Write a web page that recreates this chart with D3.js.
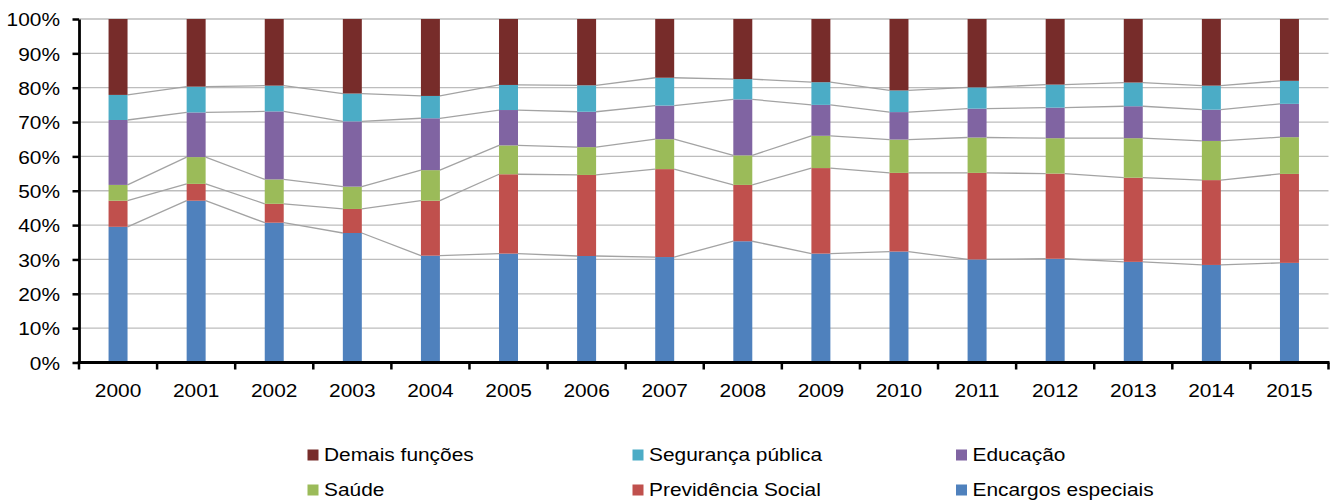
<!DOCTYPE html>
<html>
<head>
<meta charset="utf-8">
<script src="https://cdn.jsdelivr.net/npm/d3@7"></script>
<style>
  html, body { margin: 0; padding: 0; background: #fff; }
  svg { display: block; }
  text { font-family: "Liberation Sans", Arial, sans-serif; fill: #000; }
</style>
</head>
<body>
<svg id="chart" width="1333" height="501"></svg>
<script>
// Years on the category axis
const years = ["2000","2001","2002","2003","2004","2005","2006","2007",
               "2008","2009","2010","2011","2012","2013","2014","2015"];

// Share of each function in total spending (%), stacked bottom to top
const encargosEspeciais = [39.5, 47.1, 40.7, 37.7, 31.1, 31.7, 31.0, 30.7, 35.3, 31.7, 32.3, 30.0, 30.2, 29.3, 28.4, 29.0];
const previdenciaSocial = [ 7.6,  4.9,  5.5,  7.0, 16.0, 23.1, 23.6, 25.6, 16.4, 24.9, 22.9, 25.2, 24.8, 24.5, 24.7, 25.9];
const saude             = [ 4.6,  7.8,  7.1,  6.5,  8.9,  8.4,  8.1,  8.7,  8.6,  9.4,  9.7, 10.3, 10.3, 11.5, 11.4, 10.7];
const educacao          = [18.9, 13.0, 19.8, 19.0, 15.1, 10.3, 10.3,  9.8, 16.3,  9.0,  8.0,  8.4,  8.9,  9.3,  9.1,  9.7];
const segurancaPublica  = [ 7.3,  7.5,  7.5,  8.1,  6.5,  7.3,  7.7,  8.1,  5.9,  6.6,  6.3,  6.2,  6.7,  6.9,  7.0,  6.7];
const demaisFuncoes     = [22.1, 19.7, 19.4, 21.7, 22.4, 19.2, 19.3, 17.1, 17.5, 18.4, 20.8, 19.9, 19.1, 18.5, 19.4, 18.0];

// Series names, bottom to top
const seriesNames = ["Encargos especiais", "Previdência Social", "Saúde",
                     "Educação", "Segurança pública", "Demais funções"];
const seriesValues = [encargosEspeciais, previdenciaSocial, saude,
                      educacao, segurancaPublica, demaisFuncoes];
const seriesColors = ["#4f81bd", "#c0504d", "#9bbb59", "#8064a2", "#4bacc6", "#772c2a"];

// Legend layout order (row by row)
const legendOrder = ["Demais funções", "Segurança pública", "Educação",
                     "Saúde", "Previdência Social", "Encargos especiais"];

// y-axis tick values
const yTicks = [0, 0.1, 0.2, 0.3, 0.4, 0.5, 0.6, 0.7, 0.8, 0.9, 1.0];

const FONT = 18.5, SX = 1.13;

const svg = d3.select("#chart");
const plot = { left: 79, right: 1328.5, top: 19, bottom: 362.5 };

const rows = years.map((y, i) => {
  const r = { year: y };
  seriesNames.forEach((n, k) => r[n] = seriesValues[k][i] / 100);
  return r;
});
const stacked = d3.stack().keys(seriesNames)(rows);

const x = d3.scaleBand().domain(years).range([plot.left, plot.right]).paddingInner(0).paddingOuter(0);
const barW = x.bandwidth() * 0.243;
const barX = d => x(d) + (x.bandwidth() - barW) / 2;

const y = d3.scaleLinear().domain([0, 1]).range([plot.bottom, plot.top]);
const color = d3.scaleOrdinal().domain(seriesNames).range(seriesColors);

// horizontal gridlines
svg.append("g").selectAll("line").data(yTicks.filter(t => t > 0)).join("line")
  .attr("x1", plot.left).attr("x2", plot.right)
  .attr("y1", d => y(d)).attr("y2", d => y(d))
  .attr("stroke", "#bdbdbd").attr("stroke-width", 1.3);

// connector lines between bars for each cumulative boundary
const connect = svg.append("g").attr("fill", "none").attr("stroke", "#a3a3a3").attr("stroke-width", 1.3);
stacked.slice(0, 5).forEach(layer => {
  for (let i = 0; i < years.length - 1; i++) {
    connect.append("line")
      .attr("x1", barX(years[i]) + barW).attr("y1", y(layer[i][1]))
      .attr("x2", barX(years[i + 1])).attr("y2", y(layer[i + 1][1]));
  }
});

// stacked bars
svg.append("g").selectAll("g").data(stacked).join("g")
  .attr("fill", d => color(d.key))
  .selectAll("rect").data(d => d).join("rect")
  .attr("x", d => barX(d.data.year))
  .attr("width", barW)
  .attr("y", d => y(d[1]))
  .attr("height", d => y(d[0]) - y(d[1]));

// stretch text horizontally about its anchor point
function stretchX(sel) {
  sel.each(function () {
    const t = d3.select(this);
    const tx = +t.attr("x") || 0, ty = +t.attr("y") || 0;
    t.attr("x", 0).attr("y", 0).attr("transform", `translate(${tx},${ty}) scale(${SX},1)`);
  });
}

// y axis
const yAxis = svg.append("g").attr("transform", `translate(${plot.left},0)`)
  .call(d3.axisLeft(y).tickValues(yTicks).tickFormat(d3.format(".0%"))
        .tickSize(6.5).tickPadding(12.5).tickSizeOuter(0));
yAxis.select(".domain").attr("stroke", "#000").attr("stroke-width", 2.8);
yAxis.selectAll(".tick line").attr("stroke", "#000").attr("stroke-width", 2.5);
yAxis.selectAll("text").attr("font-size", FONT).attr("font-family", "Liberation Sans, Arial, sans-serif")
  .attr("fill", "#000").attr("dy", "0.36em");
stretchX(yAxis.selectAll("text"));

// x axis: labels at band centres, ticks at band edges
const xAxis = svg.append("g").attr("transform", `translate(0,${plot.bottom})`)
  .call(d3.axisBottom(x).tickSize(0).tickPadding(21).tickSizeOuter(0));
xAxis.select(".domain").remove();
xAxis.selectAll("text").attr("font-size", FONT).attr("font-family", "Liberation Sans, Arial, sans-serif")
  .attr("fill", "#000");
stretchX(xAxis.selectAll("text"));
xAxis.append("line").attr("x1", plot.left - 1.4).attr("x2", plot.right + 1)
  .attr("stroke", "#000").attr("stroke-width", 2.8);
xAxis.selectAll(".edge").data(years.map(d => x(d)).concat([x.range()[1]])).join("line")
  .attr("class", "edge")
  .attr("x1", d => d).attr("x2", d => d).attr("y1", 0).attr("y2", 7)
  .attr("stroke", "#000").attr("stroke-width", 2.5);

// legend
const legCols = [307.5, 632.5, 956];
const legRows = [460.5, 495.5];
const legend = svg.append("g").selectAll("g").data(legendOrder).join("g")
  .attr("transform", (d, i) => `translate(${legCols[i % 3]},${legRows[Math.floor(i / 3)]})`);
legend.append("rect").attr("x", 0).attr("y", -11).attr("width", 11).attr("height", 11)
  .attr("fill", d => color(d));
legend.append("text").attr("font-size", FONT)
  .attr("transform", `translate(16.5,0) scale(${SX},1)`)
  .text(d => d);
</script>
</body>
</html>
